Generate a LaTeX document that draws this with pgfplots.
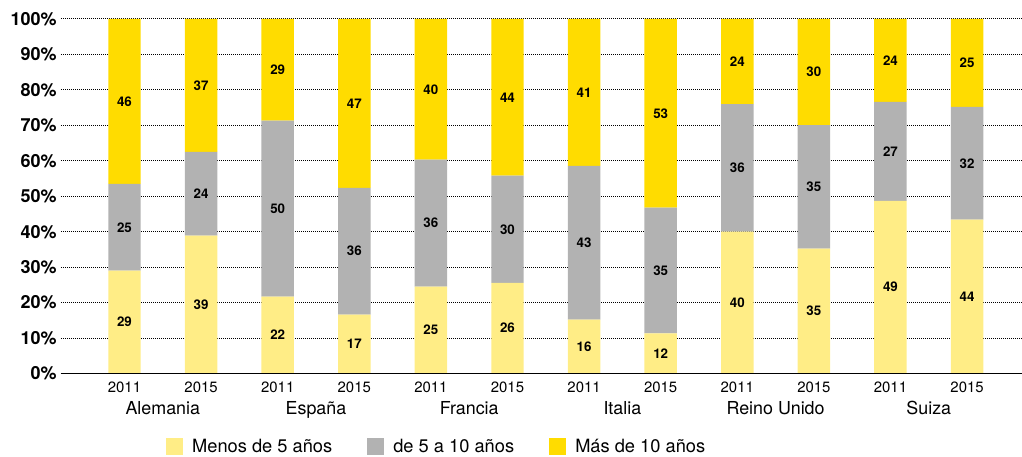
\documentclass[border=0pt]{standalone}
\usepackage{pgfplots}
\pgfplotsset{compat=1.18}
\usepackage{pgfplotstable}
\usepackage{fontspec}
\setmainfont{TeX Gyre Heros}

\definecolor{cLight}{HTML}{FFED86}
\definecolor{cGray}{HTML}{B2B2B2}
\definecolor{cYellow}{HTML}{FFDC00}

% a = menos de 5, b = de 5 a 10, c = mas de 10 (segment heights)
% la, lb, lc = printed labels
\pgfplotstableread{
x  a    b    c    la lb lc
0  29.0 24.5 46.5 29 25 46
1  38.9 23.6 37.5 39 24 37
2  21.7 49.6 28.7 22 50 29
3  16.6 35.8 47.6 17 36 47
4  24.5 35.8 39.7 25 36 40
5  25.6 30.2 44.2 26 30 44
6  15.2 43.4 41.4 16 43 41
7  11.3 35.5 53.2 12 35 53
8  40.0 36.0 24.0 40 36 24
9  35.2 34.9 29.9 35 35 30
10 48.7 27.9 23.4 49 27 24
11 43.4 31.8 24.8 44 32 25
}\data

\pgfplotsset{
  common/.style={
    scale only axis,
    width=720.75pt, height=265.9pt,
    at={(0,0)}, anchor=south west,
    xmin=-0.829, xmax=11.717,
    ymin=0, ymax=100,
  },
}

\begin{document}
\begin{tikzpicture}
\begin{axis}[
  common,
  ybar stacked,
  bar width=0.424,
  axis lines*=left,
  axis line style={draw=none},
  tick style={draw=none},
  ymajorgrids,
  grid style={black, line width=0.75pt, dash pattern=on 0.75pt off 0.75pt},
  ytick={0,10,...,100},
  yticklabel={\pgfmathprintnumber{\tick}\%},
  /pgf/number format/assume math mode=true,
  yticklabel style={font=\fontsize{13.5}{15}\selectfont\bfseries, inner sep=0pt, xshift=-3pt},
  xtick={0,...,11},
  xticklabels={2011,2015,2011,2015,2011,2015,2011,2015,2011,2015,2011,2015},
  xticklabel style={font=\fontsize{11.2}{13}\selectfont, inner sep=0pt, yshift=-6pt},
  extra x ticks={0.5,2.5,4.5,6.5,8.5,10.5},
  extra x tick labels={Alemania,España,Francia,Italia,Reino Unido,Suiza},
  extra x tick style={grid=none, major tick length=0pt,
    xticklabel style={font=\fontsize{13.4}{15}\selectfont, yshift=-14.5pt}},
  legend style={at={(axis description cs:0.109,-0.207)}, anchor=west,
    draw=none, fill=none, inner sep=0pt, outer sep=0pt,
    legend columns=3, font=\fontsize{13.7}{15}\selectfont,
    /tikz/every odd column/.append style={column sep=5pt},
    /tikz/every even column/.append style={column sep=24pt}},
  legend cell align=left,
  legend image code/.code={\fill[#1] (0pt,-6.4pt) rectangle (12.8pt,6.4pt);},
]
\addplot[fill=cLight, draw=none] table[x=x, y=a]{\data};
\addplot[fill=cGray, draw=none] table[x=x, y=b]{\data};
\addplot[fill=cYellow, draw=none] table[x=x, y=c]{\data};
\legend{Menos de 5 años, de 5 a 10 años, Más de 10 años}
\end{axis}

% labels in the middle of each segment, and the base line on top of the bars
\begin{axis}[
  common,
  axis x line*=bottom,
  axis y line=none,
  axis line style={black, line width=1.1pt, -},
  xtick=\empty, ytick=\empty,
  clip=false,
  nodes near coords,
  point meta=explicit symbolic,
  nodes near coords style={anchor=center, font=\fontsize{10}{12}\selectfont\bfseries, text=black},
]
\addplot[draw=none, mark=none] table[x=x, y expr=\thisrow{a}/2, meta=la]{\data};
\addplot[draw=none, mark=none] table[x=x, y expr=\thisrow{a}+\thisrow{b}/2, meta=lb]{\data};
\addplot[draw=none, mark=none] table[x=x, y expr=\thisrow{a}+\thisrow{b}+\thisrow{c}/2, meta=lc]{\data};
\end{axis}

\pgfresetboundingbox
\path (-45.75pt,-62.6pt) rectangle (720.75pt,280.15pt);
\end{tikzpicture}
\end{document}
